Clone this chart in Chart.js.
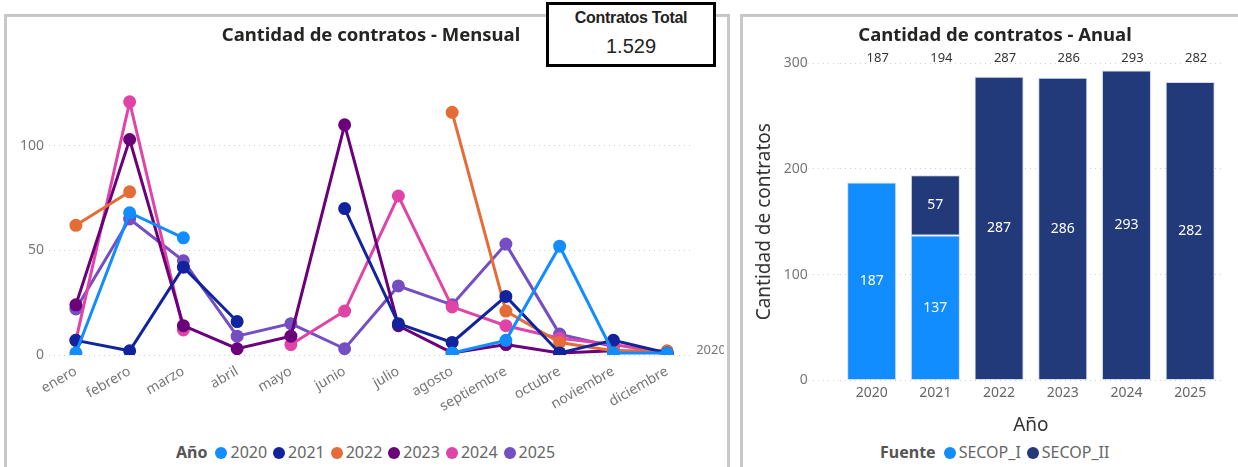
<!DOCTYPE html>
<html>
<head>
<meta charset="utf-8">
<script src="https://cdn.jsdelivr.net/npm/chart.js@4.4.1/dist/chart.umd.min.js"></script>
<style>
  body { margin: 0; background: #fff; font-family: "Noto Sans", "Open Sans", sans-serif; }
  #wrap { position: relative; width: 1238px; height: 467px; overflow: hidden; }
  .panel { position: absolute; border: 3px solid #c8c8c8; background: #fff; }
  .title { position: absolute; top: 23px; width: 400px; margin-left: -200px; text-align: center; font-size: 18.5px; line-height: 22px; font-weight: bold; color: #252423; }
  .legend { position: absolute; top: 441px; font-size: 16px; color: #666; white-space: nowrap; }
  .legend b { color: #555; margin-right: 8px; }
  .legend span.item { margin-right: 6px; }
  .legend i { display: inline-block; width: 12px; height: 12px; border-radius: 50%; margin-right: 3px; vertical-align: -1px; }
  #card { position: absolute; left: 546px; top: 2px; width: 164px; height: 59px; border: 3px solid #000; background: #fff; text-align: center; font-family: "Liberation Sans", sans-serif; }
  #card .t { font-weight: bold; font-size: 16px; color: #222; margin-top: 4px; letter-spacing: -0.3px; }
  #card .v { font-size: 20px; color: #222; margin-top: 8px; }
</style>
</head>
<body>
<div id="wrap">
  <div class="panel" style="left:4px; top:14px; width:720px; height:470px;"></div>
  <div class="panel" style="left:740px; top:14px; width:510px; height:470px;"></div>
  <canvas id="lineChart" width="717" height="398" style="position:absolute; left:7px; top:17px;"></canvas>
  <canvas id="barChart" width="493" height="424" style="position:absolute; left:743px; top:17px;"></canvas>
  <div class="title" style="left:371px;">Cantidad de contratos - Mensual</div>
  <div class="title" style="left:995px;">Cantidad de contratos - Anual</div>
  <div id="card"><div class="t">Contratos Total</div><div class="v">1.529</div></div>
  <div class="legend" id="legLeft" style="left:176px;"></div>
  <div class="legend" id="legRight" style="left:880px;"></div>
</div>
<script>
// monthly data
const months = ['enero', 'febrero', 'marzo', 'abril', 'mayo', 'junio', 'julio', 'agosto', 'septiembre', 'octubre', 'noviembre', 'diciembre'];
const years = ['2020', '2021', '2022', '2023', '2024', '2025'];
const yearColors = ['#118DFF', '#12239E', '#E66C37', '#6B007B', '#E044A7', '#744EC2'];
const m2020 = [1, 68, 56, null, null, null, null, 1, 7, 52, 1, 1];
const m2021 = [7, 2, 42, 16, null, 70, 15, 6, 28, 1, 7, 1];
const m2022 = [62, 78, null, null, null, null, null, 116, 21, 6, 2, 2];
const m2023 = [24, 103, 14, 3, 9, 110, 14, 1, 5, 1, 2, 1];
const m2024 = [7, 121, 12, null, 5, 21, 76, 23, 14, 8, 5, 1];
const m2025 = [22, 65, 45, 9, 15, 3, 33, 24, 53, 10, 4, null];
const monthly = [m2020, m2021, m2022, m2023, m2024, m2025];
const monthTicks = [0, 50, 100];

// annual data
const fuentes = ['SECOP_I', 'SECOP_II'];
const fuenteColors = ['#118DFF', '#233A7A'];
const secopI = [187, 137, null, null, null, null];
const secopII = [null, 57, 287, 286, 293, 282];

const font = "'Noto Sans', 'Open Sans', sans-serif";
const gridStyle = { color: '#cfcfcf', lineWidth: 1, tickBorderDash: [1, 4], tickColor: '#cfcfcf' };
const noBorder = { display: false, dash: [1, 4] };

// label for the first series at its last point
const endLabel = {
  id: 'endLabel',
  afterDatasetsDraw(chart) {
    const meta = chart.getDatasetMeta(0);
    const pt = meta.data[meta.data.length - 1];
    const c = chart.ctx;
    c.save();
    c.font = '13px ' + font;
    c.fillStyle = '#777';
    c.textBaseline = 'middle';
    c.fillText(chart.data.datasets[0].label, pt.x + 29, pt.y - 3);
    c.restore();
  }
};

new Chart(document.getElementById('lineChart'), {
  type: 'line',
  data: {
    labels: months,
    datasets: years.map((y, i) => ({
      label: y,
      data: monthly[i],
      borderColor: yearColors[i],
      backgroundColor: yearColors[i],
      borderWidth: 3,
      pointRadius: 5,
      pointHoverRadius: 5,
      spanGaps: false
    }))
  },
  options: {
    responsive: false,
    animation: false,
    devicePixelRatio: 1,
    layout: { padding: { left: 8, right: 30, top: 66, bottom: 0 } },
    plugins: {
      legend: { display: false },
      tooltip: { enabled: false }
    },
    scales: {
      x: {
        offset: true,
        grid: { display: false },
        border: { display: false },
        afterFit: s => { s.paddingLeft = 0; s.paddingRight = 0; },
        ticks: { color: '#777', font: { family: font, size: 14 }, maxRotation: 30, minRotation: 30, padding: 0 }
      },
      y: {
        min: 0,
        max: 130,
        afterBuildTicks: s => { s.ticks = monthTicks.map(v => ({ value: v })); },
        grid: Object.assign({}, gridStyle, { drawTicks: false }),
        border: noBorder,
        ticks: { color: '#777', font: { family: font, size: 14 }, padding: 5 }
      }
    }
  },
  plugins: [endLabel]
});

// value labels inside bars and totals on top
const barLabels = {
  id: 'barLabels',
  afterDatasetsDraw(chart) {
    const c = chart.ctx;
    c.save();
    c.textAlign = 'center';
    c.textBaseline = 'middle';
    c.font = '14px ' + font;
    c.fillStyle = '#fff';
    chart.data.datasets.forEach((ds, di) => {
      chart.getDatasetMeta(di).data.forEach((bar, i) => {
        if (ds.data[i] == null) return;
        c.fillText(ds.data[i], bar.x, (bar.y + bar.base) / 2);
      });
    });
    c.font = '13px ' + font;
    c.fillStyle = '#333';
    const meta = chart.getDatasetMeta(0);
    meta.data.forEach((bar, i) => {
      const total = (secopI[i] || 0) + (secopII[i] || 0);
      c.fillText(total, bar.x + 6, chart.chartArea.top - 5);
    });
    c.restore();
  }
};

new Chart(document.getElementById('barChart'), {
  type: 'bar',
  data: {
    labels: years,
    datasets: fuentes.map((f, i) => ({
      label: f,
      data: i === 0 ? secopI : secopII,
      backgroundColor: fuenteColors[i],
      borderColor: 'rgba(200,210,235,0.8)',
      borderWidth: 1,
      borderSkipped: false,
      barPercentage: 0.77,
      categoryPercentage: 1
    }))
  },
  options: {
    responsive: false,
    animation: false,
    devicePixelRatio: 1,
    layout: { padding: { left: 6, right: 14, top: 46, bottom: 0 } },
    plugins: {
      legend: { display: false },
      tooltip: { enabled: false }
    },
    scales: {
      x: {
        stacked: true,
        grid: { display: false, drawTicks: false },
        border: { display: false },
        ticks: { color: '#666', font: { family: font, size: 14 }, padding: 4, maxRotation: 0 },
        title: { display: true, text: 'Año', color: '#333', font: { family: font, size: 19 }, padding: { top: 9 } }
      },
      y: {
        stacked: true,
        min: 0,
        max: 300,
        grid: Object.assign({}, gridStyle, { tickLength: 32 }),
        border: noBorder,
        ticks: { stepSize: 100, color: '#777', font: { family: font, size: 14 }, padding: 0 },
        title: { display: true, text: 'Cantidad de contratos', color: '#333', font: { family: font, size: 19 }, padding: { bottom: 8 } }
      }
    }
  },
  plugins: [barLabels]
});

// legends
function buildLegend(el, title, names, colors) {
  let html = '<b>' + title + '</b>';
  names.forEach((n, i) => {
    html += '<span class="item"><i style="background:' + colors[i] + '"></i>' + n + '</span>';
  });
  document.getElementById(el).innerHTML = html;
}
buildLegend('legLeft', 'Año', years, yearColors);
buildLegend('legRight', 'Fuente', fuentes, fuenteColors);
</script>
</body>
</html>
